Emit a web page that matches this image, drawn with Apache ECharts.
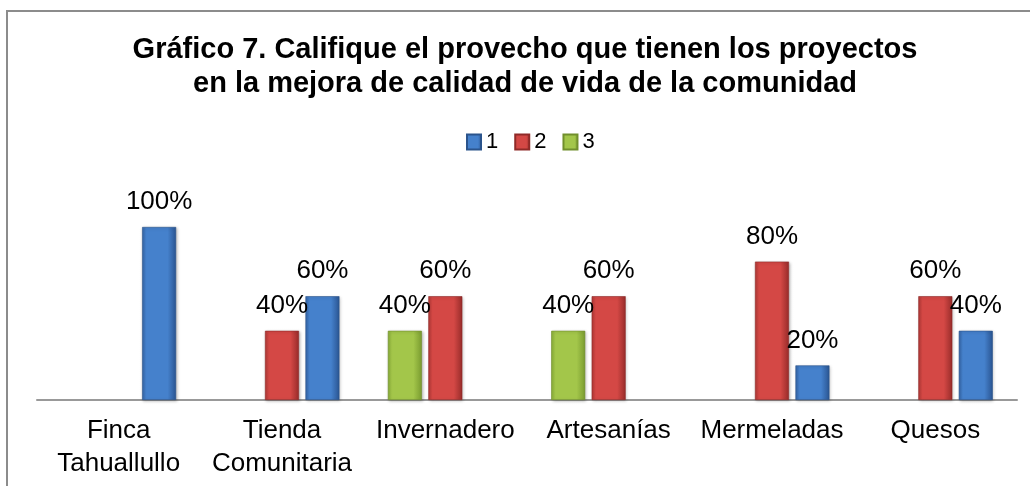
<!DOCTYPE html>
<html>
<head>
<meta charset="utf-8">
<script src="https://cdn.jsdelivr.net/npm/echarts@6/dist/echarts.min.js"></script>
<style>
html,body{margin:0;padding:0;background:#fff;}
#chart{width:1030px;height:486px;}
</style>
</head>
<body>
<div id="chart"></div>
<script>
const titleLines = ['Gráfico 7. Califique el provecho que tienen los proyectos', 'en la mejora de calidad de vida de la comunidad'];
const categories = ['Finca\nTahuallullo', 'Tienda\nComunitaria', 'Invernadero', 'Artesanías', 'Mermeladas', 'Quesos'];
const seriesNames = ['1', '2', '3'];
const values1 = [100, 60, null, null, 20, 40];
const values2 = [null, 40, 60, 60, 80, 60];
const values3 = [null, null, 40, 40, null, null];

const FONT = "'Liberation Sans', Arial, sans-serif";

function grad(l, m, r) {
  return {
    type: 'linear', x: 0, y: 0, x2: 1, y2: 0,
    colorStops: [
      { offset: 0, color: l },
      { offset: 0.12, color: m },
      { offset: 0.75, color: m },
      { offset: 1, color: r }
    ]
  };
}
const styles = {
  '1': { color: grad('#3566a8', '#4581cc', '#2a5592'), border: '#2b548c' },
  '2': { color: grad('#b33936', '#d44845', '#982c2a'), border: '#8f2a28' },
  '3': { color: grad('#8aaf38', '#a3c64a', '#7a9c30'), border: '#718f2c' }
};

function makeSeries(name, data) {
  return {
    name: name,
    type: 'bar',
    data: data,
    barWidth: 34,
    barGap: '19%',
    itemStyle: {
      color: styles[name].color,
      borderColor: styles[name].border,
      borderWidth: 0.6,
      shadowColor: 'rgba(0,0,0,0.25)',
      shadowBlur: 3,
      shadowOffsetX: 1,
      shadowOffsetY: 1
    },
    label: {
      show: true,
      position: 'top',
      distance: 12,
      formatter: '{c}%',
      color: '#000',
      fontSize: 26,
      fontFamily: FONT
    }
  };
}

const chart = echarts.init(document.getElementById('chart'), null, { renderer: 'canvas' });
chart.setOption({
  backgroundColor: '#fff',
  animation: false,
  title: {
    text: titleLines.join('\n'),
    left: 525,
    top: 33,
    textAlign: 'center',
    padding: 0,
    textStyle: { fontSize: 29, fontWeight: 'bold', color: '#000', fontFamily: FONT, lineHeight: 34 }
  },
  legend: {
    data: seriesNames,
    left: 461,
    top: 126,
    itemWidth: 14,
    itemHeight: 15,
    itemGap: 16,
    icon: 'rect',
    textStyle: { fontSize: 22, color: '#000', fontFamily: FONT }
  },
  graphic: [{
    type: 'rect',
    silent: true,
    shape: { x: 7, y: 11, width: 1100, height: 600 },
    style: { fill: 'none', stroke: '#8c8c8c', lineWidth: 2 }
  }],
  grid: { left: 37, right: 13, top: 227, bottom: 86, containLabel: false },
  xAxis: {
    type: 'category',
    data: categories,
    axisTick: { show: false },
    axisLine: { lineStyle: { color: '#999', width: 2 } },
    axisLabel: { interval: 0, color: '#000', fontSize: 26, fontFamily: FONT, lineHeight: 33, margin: 14 }
  },
  yAxis: {
    type: 'value', min: 0, max: 100, show: false
  },
  series: [
    makeSeries('3', values3),
    makeSeries('2', values2),
    makeSeries('1', values1)
  ]
});
</script>
</body>
</html>
